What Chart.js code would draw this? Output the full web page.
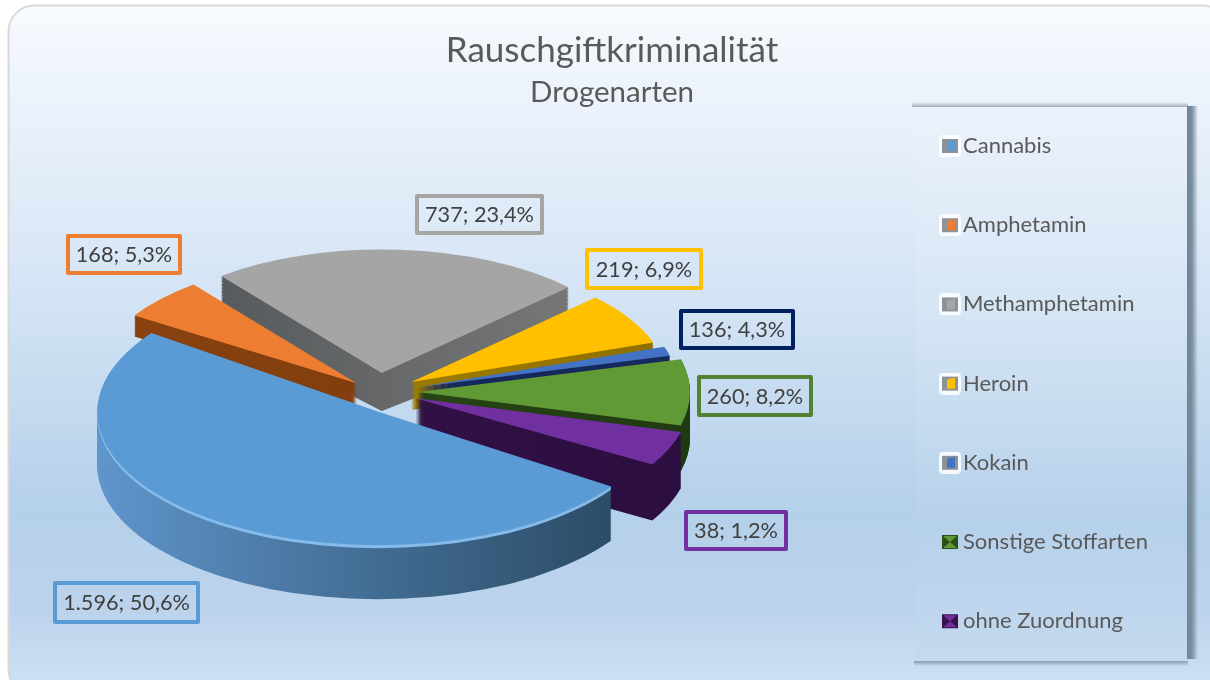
<!DOCTYPE html>
<html lang="de"><head><meta charset="utf-8"><title>Rauschgiftkriminalität</title>
<script src="https://cdn.jsdelivr.net/npm/chart.js@4"></script>
<style>html,body{margin:0;padding:0;background:#fff}canvas{display:block}</style>
</head><body><canvas id="c" width="1210" height="680"></canvas>
<script>
// DATA
const categories = ['Cannabis','Amphetamin','Methamphetamin','Heroin','Kokain','Sonstige Stoffarten','ohne Zuordnung'];
const labelValues = [1596,168,737,219,136,260,38];           // as printed in the data labels
const labelPercents = ['50,6','5,3','23,4','6,9','4,3','8,2','1,2'];
const sliceValues = [1596,168,737,219,38,260,136];          // wedge sizes as drawn in the picture

// STYLE
const topColors  = ['#5b9bd5','#ed7d31','#a5a5a5','#ffc000','#4472c4','#5f9a36','#7030a0'];
const sideFrom   = ['#5f96cd','#8a4210','#4f5356','#a88500','#16295c','#2f4f1a','#37124c'];
const sideTo     = ['#28475f','#7a3a0c','#7c7c7c','#8f7000','#16295c','#1f3a10','#2c0e40'];
const labelEdge  = ['#5b9bd5','#ed7d31','#a5a5a5','#ffc000','#002060','#548235','#7030a0'];
const sliceExplode=[49,37,40,32,34,34,34];
const sliceRx    = [281,264,260,256,262,272,275];
const sliceDepth = [54,21,38,28,24,46,56];
const sliceTaper = [0,0,0.15,0,0,0,0];
const sliceTwist = [3.5,0,0,0,0,0,0];
const sliceNudgeX= [20,0,-5,0,0,0,0];
const sliceNudgeY= [0,3,0,-2,0,0,0];
const labelCenter= [[126.5,602.5],[124,254.5],[479.5,214.5],[644,269],[737,329.5],[755,396],[736,530.5]];
const labelBox   = [[147,43],[116,41],[129,41],[118,42],[116,41],[116,42],[104,41]];
const PIE = {cx:384, cy:392, k:0.475};
const FONT = 'Lato, Calibri, "Open Sans", sans-serif';
const TEXT = '#595959';

function swatch(i){
  const c=document.createElement('canvas'); c.width=22; c.height=22;
  const g=c.getContext('2d');
  const white=i<5;
  if(white){g.fillStyle='rgba(255,255,255,.85)'; g.beginPath(); g.roundRect(0,0,22,22,4); g.fill();}
  const x=3,y=4,w=16,h=14;
  g.fillStyle = white ? '#8d9299' : sideFrom[i];
  g.fillRect(x,y,w,h);
  g.fillStyle = topColors[i];
  g.beginPath();
  if(white){g.moveTo(x+5,y+3);g.lineTo(x+w-3,y+1);g.lineTo(x+w-3,y+h-2);g.lineTo(x+5,y+h-2);}
  else{g.moveTo(x+1,y+1);g.lineTo(x+w-1,y+1);g.lineTo(x+w/2,y+h/2);g.lineTo(x+w-1,y+h-1);g.lineTo(x+1,y+h-1);g.lineTo(x+w/2,y+h/2);}
  g.closePath(); g.fill();
  return c;
}
const swatches = categories.map((_,i)=>swatch(i));

function placeTransform(ctx,arc,i,dropY){
  const m=(arc.startAngle+arc.endAngle)/2, d=sliceExplode[i], s=sliceRx[i]/arc.outerRadius;
  const taper=1-sliceTaper[i]*dropY/sliceDepth[i];
  ctx.translate(PIE.cx+sliceNudgeX[i]+d*Math.cos(m),PIE.cy+sliceNudgeY[i]+d*Math.sin(m)*PIE.k+dropY);
  ctx.scale(s,s*PIE.k*taper);
  ctx.rotate(sliceTwist[i]*Math.PI/180);
  ctx.translate(-arc.x,-arc.y);
}

const pie3d = {
  id:'pie3d',
  beforeDraw(chart){
    const ctx=chart.ctx;
    ctx.save();
    ctx.fillStyle='#fff'; ctx.fillRect(0,0,1210,680);
    const g=ctx.createLinearGradient(0,5,0,680);
    g.addColorStop(0,'#f7fafe'); g.addColorStop(.15,'#ebf2fb'); g.addColorStop(.45,'#d2e3f4');
    g.addColorStop(.75,'#b5d0ea'); g.addColorStop(.9,'#bdd3ec'); g.addColorStop(1,'#cbe0f4');
    ctx.beginPath(); ctx.roundRect(8.5,5.5,1220,690,26);
    ctx.fillStyle=g; ctx.fill();
    ctx.lineWidth=2; ctx.strokeStyle='#d9d9d9'; ctx.stroke();
    // legend panel
    const sh=ctx.createLinearGradient(1186,0,1198,0);
    sh.addColorStop(0,'#6f8293'); sh.addColorStop(.5,'#7c8fa0'); sh.addColorStop(1,'rgba(120,140,160,0)');
    ctx.fillStyle=sh; ctx.fillRect(1187,106,11,553);
    const t=ctx.createLinearGradient(0,102,0,108);
    t.addColorStop(0,'rgba(110,125,140,0)'); t.addColorStop(1,'rgba(110,125,140,.7)');
    ctx.fillStyle=t; ctx.fillRect(912,102,276,5);
    const b=ctx.createLinearGradient(0,661,0,666);
    b.addColorStop(0,'rgba(110,125,140,.7)'); b.addColorStop(1,'rgba(110,125,140,0)');
    ctx.fillStyle=b; ctx.fillRect(914,661,274,5);
    const p=ctx.createLinearGradient(0,107,0,661);
    p.addColorStop(0,'#ecf2fb'); p.addColorStop(.4,'#d3e4f4'); p.addColorStop(.75,'#b6d1ea'); p.addColorStop(1,'#c3d9ef');
    ctx.fillStyle=p; ctx.fillRect(915,107,272,554);
    ctx.restore();
  },
  afterLayout(chart){
    const l=chart.legend;
    const pad=l.options.labels.padding;
    l.left=948-pad; l.right=l.left+l.width;
    l.top=135-pad; l.bottom=l.top+l.height;
  },
  beforeDatasetDraw(chart,args){
    const ctx=chart.ctx, meta=chart.getDatasetMeta(args.index);
    const order=meta.data.map((a,i)=>{
      const m=(a.startAngle+a.endAngle)/2;
      return {a,i,s:Math.sin(m)};
    }).sort((p,q)=>p.s-q.s);
    order.forEach(({a:arc,i})=>{
      const R=arc.outerRadius;
      const grad=ctx.createLinearGradient(arc.x-R,0,arc.x+R,0);
      grad.addColorStop(0,sideFrom[i]); grad.addColorStop(1,sideTo[i]);
      const side=Object.create(arc);
      side.options=Object.assign({},arc.options,{backgroundColor:grad,borderWidth:0});
      for(let d=sliceDepth[i];d>=1;d--){
        ctx.save(); placeTransform(ctx,arc,i,d); side.draw(ctx); ctx.restore();
      }
      if(i===0){
        const rim=Object.create(arc);
        rim.options=Object.assign({},arc.options,{backgroundColor:'#86bbea',borderWidth:0});
        for(let d=3;d>=1;d--){ctx.save(); placeTransform(ctx,arc,i,d); rim.draw(ctx); ctx.restore();}
      }
      ctx.save(); placeTransform(ctx,arc,i,0); arc.draw(ctx); ctx.restore();
    });
    return false;
  },
  afterDatasetsDraw(chart){
    const ctx=chart.ctx;
    ctx.save();
    ctx.font='21.7px '+FONT; ctx.textAlign='center'; ctx.textBaseline='middle';
    categories.forEach((_,i)=>{
      const [cx,cy]=labelCenter[i], [w,h]=labelBox[i];
      ctx.lineWidth=4; ctx.strokeStyle=labelEdge[i]; ctx.lineJoin='round';
      ctx.strokeRect(cx-w/2+2,cy-h/2+2,w-4,h-4);
      ctx.fillStyle='#404040';
      const txt=labelValues[i].toLocaleString('de-DE')+'; '+labelPercents[i]+'%';
      ctx.fillText(txt,cx,cy+1);
    });
    ctx.restore();
  }
};

new Chart(document.getElementById('c'),{
  type:'pie',
  data:{labels:categories,datasets:[{data:sliceValues,backgroundColor:topColors,borderWidth:0,clip:false}]},
  plugins:[pie3d],
  options:{
    responsive:false,animation:false,events:[],
    rotation:120.5,
    layout:{padding:{left:14,top:0,right:0,bottom:0}},
    plugins:{
      tooltip:{enabled:false},
      title:{display:true,text:'Rauschgiftkriminalität',color:TEXT,font:{family:FONT,size:35,weight:'normal'},padding:{top:30,bottom:3}},
      subtitle:{display:true,text:'Drogenarten',color:TEXT,font:{family:FONT,size:29.5,weight:'normal'},padding:{bottom:6}},
      legend:{display:true,position:'right',align:'start',
        labels:{color:TEXT,font:{family:FONT,size:22},padding:57.2,usePointStyle:true,pointStyleWidth:4,
          generateLabels(chart){
            return categories.map((t,i)=>({text:t,pointStyle:swatches[i],fontColor:TEXT,index:i,hidden:false,lineWidth:0}));
          }}}
    }
  }
});
</script></body></html>
